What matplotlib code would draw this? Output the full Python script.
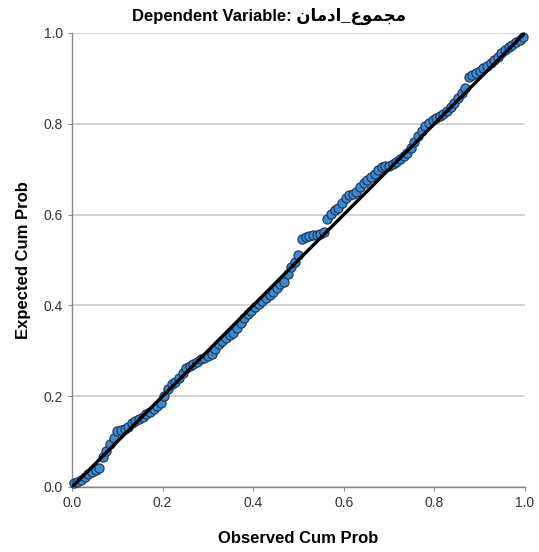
import numpy as np
import matplotlib.pyplot as plt

# Normal P-P plot of regression standardized residuals
title_prefix = 'Dependent Variable: '
dep_var = 'مجموع_ادمان'
x_label = 'Observed Cum Prob'
y_label = 'Expected Cum Prob'
ticks = [0.0, 0.2, 0.4, 0.6, 0.8, 1.0]

observed = [
    0.004, 0.012, 0.020, 0.028, 0.036, 0.044, 0.052, 0.060, 0.068, 0.076,
    0.084, 0.092, 0.100, 0.108, 0.116, 0.124, 0.132, 0.140, 0.148, 0.156,
    0.164, 0.172, 0.180, 0.188, 0.196, 0.204, 0.212, 0.220, 0.228, 0.236,
    0.244, 0.252, 0.260, 0.268, 0.276, 0.284, 0.292, 0.300, 0.308, 0.316,
    0.324, 0.332, 0.340, 0.348, 0.356, 0.364, 0.372, 0.380, 0.388, 0.396,
    0.404, 0.412, 0.420, 0.428, 0.436, 0.444, 0.452, 0.460, 0.468, 0.476,
    0.484, 0.492, 0.500, 0.508, 0.516, 0.524, 0.532, 0.540, 0.548, 0.556,
    0.564, 0.572, 0.580, 0.588, 0.596, 0.604, 0.612, 0.620, 0.628, 0.636,
    0.644, 0.652, 0.660, 0.668, 0.676, 0.684, 0.692, 0.700, 0.708, 0.716,
    0.724, 0.732, 0.740, 0.748, 0.756, 0.764, 0.772, 0.780, 0.788, 0.796,
    0.804, 0.812, 0.820, 0.828, 0.836, 0.844, 0.852, 0.860, 0.868, 0.876,
    0.884, 0.892, 0.900, 0.908, 0.916, 0.924, 0.932, 0.940, 0.948, 0.956,
    0.964, 0.972, 0.980, 0.988, 0.996,
]
expected = [
    0.008, 0.012, 0.016, 0.022, 0.028, 0.033, 0.037, 0.042, 0.066, 0.080,
    0.095, 0.108, 0.124, 0.126, 0.128, 0.132, 0.140, 0.145, 0.150, 0.155,
    0.160, 0.166, 0.172, 0.178, 0.186, 0.200, 0.215, 0.226, 0.232, 0.240,
    0.250, 0.262, 0.266, 0.270, 0.276, 0.282, 0.285, 0.288, 0.292, 0.304,
    0.314, 0.322, 0.328, 0.334, 0.340, 0.350, 0.362, 0.372, 0.380, 0.388,
    0.396, 0.404, 0.410, 0.416, 0.422, 0.430, 0.438, 0.446, 0.452, 0.470,
    0.484, 0.496, 0.510, 0.546, 0.550, 0.552, 0.554, 0.556, 0.558, 0.562,
    0.590, 0.602, 0.610, 0.615, 0.626, 0.636, 0.643, 0.646, 0.650, 0.660,
    0.670, 0.676, 0.682, 0.690, 0.698, 0.704, 0.706, 0.708, 0.712, 0.716,
    0.722, 0.728, 0.736, 0.746, 0.760, 0.772, 0.784, 0.796, 0.802, 0.808,
    0.812, 0.816, 0.822, 0.828, 0.836, 0.846, 0.856, 0.868, 0.878, 0.904,
    0.908, 0.912, 0.916, 0.922, 0.928, 0.934, 0.940, 0.948, 0.956, 0.962,
    0.968, 0.974, 0.980, 0.984, 0.990,
]

# matplotlib has no Arabic shaping, so pick the joined glyph forms by hand
# letter: (isolated, final, initial, medial) ; None = does not join forward
forms = {
    'م': ('\uFEE1', '\uFEE2', '\uFEE3', '\uFEE4'),
    'ج': ('\uFE9D', '\uFE9E', '\uFE9F', '\uFEA0'),
    'ع': ('\uFEC9', '\uFECA', '\uFECB', '\uFECC'),
    'ن': ('\uFEE5', '\uFEE6', '\uFEE7', '\uFEE8'),
    'و': ('\uFEED', '\uFEEE', None, None),
    'ا': ('\uFE8D', '\uFE8E', None, None),
    'د': ('\uFEA9', '\uFEAA', None, None),
}


def shape_arabic(text):
    out = []
    for i, ch in enumerate(text):
        if ch not in forms:
            out.append(ch)
            continue
        prev = text[i - 1] if i > 0 else ''
        nxt = text[i + 1] if i + 1 < len(text) else ''
        join_prev = prev in forms and forms[prev][2] is not None
        join_next = nxt in forms and forms[ch][2] is not None
        iso, fin, ini, med = forms[ch]
        if join_prev and join_next:
            out.append(med)
        elif join_prev:
            out.append(fin)
        elif join_next:
            out.append(ini)
        else:
            out.append(iso)
    return ''.join(out[::-1])


fig = plt.figure(figsize=(5.39, 5.52), dpi=100)
ax = fig.add_axes([0.1336, 0.1178, 0.8404, 0.8225])

ax.scatter(observed, expected, s=44, facecolor='#3a89d2', edgecolor='#1b3553',
           linewidth=0.8, zorder=3, clip_on=False)
ax.plot([0, 1], [0, 1], color='black', linewidth=2.4, zorder=4)

ax.set_xlim(0, 1)
ax.set_ylim(0, 1)
ax.set_xticks(ticks)
ax.set_yticks(ticks)
ax.set_xticklabels([f'{t:.1f}' for t in ticks])
ax.set_yticklabels([f'{t:.1f}' for t in ticks])
ax.grid(axis='y', color='#d4d4d4', linewidth=1.4)
ax.set_axisbelow(True)
for side in ['top', 'right']:
    ax.spines[side].set_visible(False)
for side in ['left', 'bottom']:
    ax.spines[side].set_color('#888888')
    ax.spines[side].set_linewidth(1.0)
ax.tick_params(length=3, color='#888888', labelsize=10, labelcolor='#333333')
for lab in ax.get_xticklabels() + ax.get_yticklabels():
    lab.set_family(['Liberation Sans', 'DejaVu Sans'])

ax.set_xlabel(x_label, fontsize=12, fontweight='bold',
              family=['Liberation Sans', 'DejaVu Sans'], labelpad=15)
ax.set_ylabel(y_label, fontsize=12, fontweight='bold',
              family=['Liberation Sans', 'DejaVu Sans'], labelpad=9)
fig.text(0.5, 0.971, title_prefix + shape_arabic(dep_var), ha='center', va='center',
         fontsize=12, fontweight='bold', family=['Liberation Sans', 'DejaVu Sans'])

fig.savefig('out.png', dpi=100)
